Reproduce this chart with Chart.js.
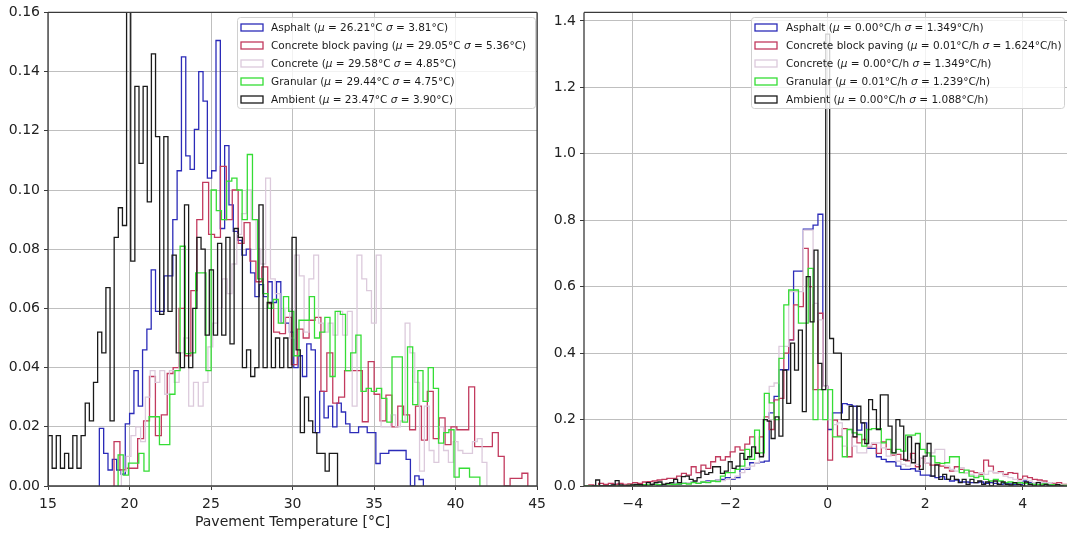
<!DOCTYPE html>
<html><head><meta charset="utf-8">
<script src="https://cdn.jsdelivr.net/npm/chart.js@4.4.1/dist/chart.umd.min.js"></script>
<style>
html,body{margin:0;padding:0;background:#fff;}
#wrap{position:relative;width:1067px;height:535px;overflow:hidden;background:#fff;}
#c1{position:absolute;left:0;top:0;}
#c2{position:absolute;left:545px;top:0;}
</style></head><body>
<div id="wrap"><canvas id="c1" width="552" height="535"></canvas><canvas id="c2" width="522" height="535"></canvas></div>
<script>
// ---------- data ----------
const SERIES = ['Asphalt', 'Concrete block paving', 'Concrete', 'Granular', 'Ambient'];
const LEFT_MU = ['26.21', '29.05', '29.58', '29.44', '23.47'];
const LEFT_SIGMA = ['3.81', '5.36', '4.85', '4.75', '3.90'];
const RIGHT_MU = ['0.00', '0.01', '0.00', '0.01', '0.00'];
const RIGHT_SIGMA = ['1.349', '1.624', '1.349', '1.239', '1.088'];

const LEFT_X_TICKS = [15, 20, 25, 30, 35, 40, 45];
const LEFT_Y_TICKS = [0, 0.02, 0.04, 0.06, 0.08, 0.10, 0.12, 0.14, 0.16];
const RIGHT_X_TICKS = [-4, -2, 0, 2, 4];
const RIGHT_Y_TICKS = [0, 0.2, 0.4, 0.6, 0.8, 1.0, 1.2, 1.4];
const X_TITLE_LEFT = 'Pavement Temperature [°C]';

// histogram bin start / bin width (x units) per series
const LEFT_BIN_START = [18.15, 19.05, 19.5, 19.3, 15.0];
const LEFT_BIN_WIDTH = [0.265, 0.3626, 0.295, 0.317, 0.2537];
const RIGHT_BIN_START = [-5, -5, -5, -5, -4.84];
const RIGHT_BIN_WIDTH = [0.1, 0.1, 0.1, 0.1, 0.08];

const asphaltTemp = [0.0195,0.011,0.0054,0.009,0.0054,0.004,0.021,0.0245,0.039,0.027,0.046,0.053,0.073,0.059,0.059,0.071,0.071,
0.09,0.1065,0.145,0.1115,0.107,0.1205,0.140,0.130,0.104,0.1065,0.1505,0.087,0.115,0.095,
0.086,0.083,0.078,0.080,0.072,0.064,0.068,0.064,0.069,0.062,0.069,0.055,
0.055,0.052,0.040,0.044,0.037,0.048,0.046,0.018,0.032,0.023,0.027,0.020,0.028,0.025,0.021,0.018,0.018,0.020,0.020,0.018,0.018,0.0076,0.011,0.011,0.012,0.012,0.012,0.012,0.009,0.0,0.0034,0.0022];
const blockTemp = [0.015,0.0054,0.006,0.006,0.016,0.022,0.037,0.017,0.024,0.038,0.040,0.060,0.044,0.066,0.090,0.1026,0.085,0.084,0.108,0.090,0.100,0.082,0.089,0.076,0.069,0.074,0.0616,0.052,
0.0515,0.057,0.041,0.053,0.050,0.056,0.057,0.032,0.045,0.028,0.030,0.039,0.039,0.039,0.0217,0.042,0.031,0.022,0.0307,0.020,0.027,0.024,0.019,0.027,0.0155,0.032,0.016,0.023,0.014,0.020,0.019,0.019,0.0335,0.0133,0.0133,0.0133,0.018,0.010,0.0,0.0026,0.0026,0.0043];
const concreteTemp = [0.005,0.010,0.017,0.020,0.015,0.030,0.039,0.035,0.039,0.031,0.039,0.035,0.045,0.050,0.027,0.035,0.027,0.035,0.047,0.055,0.060,0.070,0.065,0.075,0.085,0.092,0.100,0.090,0.080,0.075,0.104,0.070,0.065,0.055,0.060,0.050,
0.078,0.071,0.052,0.070,0.078,0.055,0.052,0.055,0.051,0.059,0.051,0.059,0.027,0.078,0.070,0.066,0.055,0.078,0.020,
0.020,0.024,0.020,0.022,0.055,0.045,
0.035,0.005,0.027,0.012,0.008,0.020,0.012,0.008,0.015,0.012,0.011,0.011,0.015,0.016,0.008];
const granularTemp = [0.0105,0.0037,0.0077,0.0077,0.011,0.005,0.0234,0.0234,0.014,0.014,
0.031,0.039,0.081,0.0447,0.045,0.072,0.072,0.039,0.100,0.093,0.090,0.103,0.104,0.100,0.090,0.112,0.090,0.070,0.065,0.060,0.063,0.055,0.064,0.059,
0.044,0.056,0.056,0.064,0.050,0.052,0.057,0.037,0.059,0.058,0.039,0.045,0.051,0.032,0.033,0.032,0.033,0.0296,0.0216,0.0436,0.0436,0.0216,0.047,
0.0275,0.039,0.0286,0.040,0.033,0.0145,0.018,0.019,0.003,0.006,0.006,0.003,0.003];
const ambientTemp = [0.017,0.006,0.017,0.006,0.011,0.006,0.017,0.006,
0.017,0.028,0.022,0.035,
0.052,0.045,0.067,0.022,
0.084,0.094,0.088,0.175,
0.076,0.135,0.109,0.135,0.096,0.146,0.118,0.058,
0.118,0.059,0.078,0.045,0.040,0.095,0.040,0.060,0.084,0.080,
0.051,0.073,0.051,0.082,0.051,0.084,0.048,0.087,0.084,0.040,
0.046,0.037,0.040,0.095,0.040,0.062,0.040,
0.050,0.040,0.050,0.040,0.084,
0.046,0.018,0.030,0.022,0.018,0.011,0.011,0.005,0.011,0.011];

const asphaltRate = [0,0,0,0,0,0,0.005,0,0,0,0,0,0.004,0,0.005,0,0.004,0.006,0.008,0.006,
0.008,0.010,0.012,0.010,0.012,0.015,0.014,0.018,0.020,0.025,
0.020,0.025,0.050,0.050,0.070,0.070,0.072,0.075,0.220,0.270,
0.350,0.350,0.440,0.647,0.647,0.773,0.773,0.785,0.818,0.300,
0.170,0.220,0.220,0.248,0.245,0.240,0.168,0.190,0.113,0.113,
0.088,0.080,0.073,0.073,0.060,0.050,0.050,0.052,0.045,0.033,
0.033,0.030,0.025,0.028,0.020,0.015,0.018,0.012,0.012,0.010,
0.010,0.012,0.008,0.010,0.008,0.005,0.008,0.006,0.004,0.005,
0.015,0.010,0.005,0.004,0.008,0.003,0.004,0.002,0.002,0.000];
const blockRate = [0.000,0.003,0.000,0.008,0.005,0.008,0.005,0.008,0.005,0.006,0.010,0.008,0.012,0.013,0.015,0.018,0.020,0.023,0.023,0.030,
0.038,0.033,0.058,0.040,0.063,0.053,0.073,0.088,0.078,0.088,
0.103,0.118,0.108,0.126,0.148,0.100,0.148,0.208,0.170,0.259,
0.264,0.400,0.440,0.545,0.540,0.715,0.600,0.290,0.520,0.300,
0.078,0.198,0.150,0.173,0.088,0.148,0.130,0.140,0.118,0.125,
0.098,0.133,0.110,0.093,0.095,0.080,0.076,0.098,0.058,0.085,
0.070,0.063,0.065,0.060,0.055,0.045,0.058,0.050,0.040,0.045,
0.040,0.035,0.078,0.060,0.040,0.043,0.035,0.040,0.038,0.020,
0.030,0.025,0.020,0.018,0.015,0.010,0.008,0.010,0.005,0.003];
const concreteRate = [0,0,0,0,0,0,0,0,0.002,0,0.003,0.002,0.004,0.003,0.005,0.004,0.006,0.005,0.006,0.008,
0.008,0.010,0.012,0.010,0.014,0.012,0.015,0.018,0.016,0.020,
0.022,0.030,0.040,0.055,0.060,0.070,0.090,0.200,0.300,0.310,
0.420,0.420,0.585,0.585,0.585,0.770,0.770,0.550,0.500,0.300,
0.200,0.185,0.190,0.120,0.170,0.120,0.100,0.100,0.120,0.130,
0.130,0.115,0.090,0.100,0.075,0.065,0.060,0.080,0.065,0.085,
0.070,0.100,0.110,0.110,0.060,0.050,0.045,0.055,0.040,0.035,
0.030,0.040,0.035,0.045,0.040,0.040,0.030,0.025,0.020,0.015,
0.020,0.015,0.010,0.012,0.008,0.010,0.005,0.005,0.003,0.000];
const granularRate = [0,0,0,0,0,0,0,0,0,0.002,0.003,0.002,0.004,0.003,0.005,0.004,0.005,0.006,0.005,0.006,
0.008,0.006,0.010,0.008,0.012,0.010,0.015,0.013,0.030,0.040,
0.040,0.050,0.060,0.110,0.080,0.168,0.100,0.279,0.250,0.200,
0.384,0.545,0.590,0.590,0.490,0.490,0.655,0.200,0.290,0.200,
0.290,0.148,0.148,0.088,0.170,0.160,0.155,0.120,0.170,0.173,
0.173,0.130,0.140,0.100,0.110,0.105,0.153,0.153,0.158,0.110,
0.100,0.090,0.070,0.068,0.070,0.088,0.088,0.040,0.048,0.030,
0.025,0.030,0.020,0.015,0.020,0.015,0.010,0.012,0.008,0.010,
0.008,0.006,0.005,0.004,0.006,0.003,0.004,0.002,0.002,0.000];
const ambientRate = [0,0.018,0,0,0,0.003,0.016,0.003,0,0.002,0.003,0.005,0.004,0,0.010,0.005,0.010,0.012,0.005,0.008,0.010,0.020,0.010,0.028,0.030,0.020,0.015,0.025,0.045,0.035,
0.040,0.058,0.058,0.038,0.045,0.073,0.053,0.060,0.098,0.080,
0.088,0.118,0.098,0.088,0.200,0.195,0.143,0.208,0.150,0.349,
0.249,0.430,0.349,0.469,0.224,0.630,0.494,0.710,0.369,0.290,
1.360,
0.444,0.400,0.400,0.200,0.200,0.240,0.148,0.240,0.190,0.128,
0.260,0.230,0.170,0.274,0.274,0.180,0.100,0.200,0.180,0.078,
0.148,0.070,0.128,0.050,0.090,0.128,0.030,0.063,0.020,0.035,
0.020,0.030,0.020,0.010,0.020,0.005,0.020,0.010,0.015,0.005,
0.012,0,0.015,0.005,0.012,0.005,0.003,0.010,0.005,0,0.012,0.005,0,0.010,0,0.005,0,0,0.004,0];

const LEFT_VALUES = [asphaltTemp, blockTemp, concreteTemp, granularTemp, ambientTemp];
const RIGHT_VALUES = [asphaltRate, blockRate, concreteRate, granularRate, ambientRate];

// ---------- styles ----------
const COLORS = ['#2b2bb8', '#c23a5e', '#dccadc', '#35dd35', '#1a1a1a'];
const FONT = "'DejaVu Sans', sans-serif";
const GRID = '#bfbfbf';
const SPINE = '#3a3a3a';

function steps(start, width, vals) {
  const pts = [{x: start, y: 0}];
  vals.forEach((v, i) => pts.push({x: start + width * i, y: v}));
  pts.push({x: start + width * vals.length, y: 0});
  return pts;
}

function makeDatasets(starts, widths, values) {
  return SERIES.map((name, i) => ({
    label: name,
    data: steps(starts[i], widths[i], values[i]),
    borderColor: COLORS[i],
    backgroundColor: 'transparent',
    borderWidth: 1.3,
    stepped: true,
    pointRadius: 0,
    fill: false,
    order: SERIES.length - i
  }));
}

function spinesPlugin(sides) {
  return {
    id: 'spines',
    afterDatasetsDraw(chart) {
      const {ctx, chartArea: a} = chart;
      ctx.save();
      ctx.strokeStyle = SPINE; ctx.lineWidth = 1.3;
      ctx.beginPath();
      if (sides.includes('l')) { ctx.moveTo(a.left, a.top); ctx.lineTo(a.left, a.bottom); }
      if (sides.includes('r')) { ctx.moveTo(a.right, a.top); ctx.lineTo(a.right, a.bottom); }
      if (sides.includes('t')) { ctx.moveTo(a.left, a.top); ctx.lineTo(a.right, a.top); }
      if (sides.includes('b')) { ctx.moveTo(a.left, a.bottom); ctx.lineTo(a.right, a.bottom); }
      ctx.stroke();
      ctx.restore();
    }
  };
}

function legendPlugin(mus, sigmas, unit, box) {
  return {
    id: 'boxlegend',
    afterDraw(chart) {
      const ctx = chart.ctx;
      ctx.save();
      const r = 3;
      const {x0, y0, x1, y1, textX} = box;
      ctx.beginPath();
      ctx.moveTo(x0 + r, y0); ctx.lineTo(x1 - r, y0); ctx.quadraticCurveTo(x1, y0, x1, y0 + r);
      ctx.lineTo(x1, y1 - r); ctx.quadraticCurveTo(x1, y1, x1 - r, y1);
      ctx.lineTo(x0 + r, y1); ctx.quadraticCurveTo(x0, y1, x0, y1 - r);
      ctx.lineTo(x0, y0 + r); ctx.quadraticCurveTo(x0, y0, x0 + r, y0);
      ctx.closePath();
      ctx.fillStyle = 'rgba(255,255,255,0.8)';
      ctx.fill();
      ctx.strokeStyle = '#d0d0d0'; ctx.lineWidth = 1;
      ctx.stroke();
      const rowH = 18;
      const normal = `10.5px ${FONT}`;
      const italic = `italic 10.5px ${FONT}`;
      ctx.textBaseline = 'middle';
      SERIES.forEach((name, i) => {
        const cy = y0 + 10 + i * rowH;
        ctx.strokeStyle = COLORS[i]; ctx.lineWidth = 1.3;
        ctx.strokeRect(x0 + 3.5, cy - 3.5, 22, 7);
        const parts = [
          [name + ' (', normal], ['μ', italic], [' = ' + mus[i] + unit + ' ', normal],
          ['σ', italic], [' = ' + sigmas[i] + unit + ')', normal]
        ];
        let x = textX;
        ctx.fillStyle = '#1a1a1a';
        parts.forEach(([t, f]) => { ctx.font = f; ctx.fillText(t, x, cy + 0.5); x += ctx.measureText(t).width; });
      });
      ctx.restore();
    }
  };
}

function tickFont() { return {family: FONT, size: 14}; }

function makeChart(canvas, cfg) {
  return new Chart(canvas, {
    type: 'line',
    data: {datasets: cfg.datasets},
    options: {
      responsive: false,
      animation: false,
      events: [],
      layout: {padding: cfg.padding},
      plugins: {legend: {display: false}, tooltip: {enabled: false}},
      scales: {
        x: {
          type: 'linear', min: cfg.xmin, max: cfg.xmax,
          afterBuildTicks: s => { s.ticks = cfg.xticks.map(v => ({value: v})); },
          afterFit: s => { s.height = 49; },
          ticks: {font: tickFont(), color: '#222', maxRotation: 0, autoSkip: false, padding: 6, callback: cfg.xfmt},
          grid: {color: GRID, lineWidth: 1, tickLength: 4, tickColor: SPINE, drawTicks: true},
          border: {display: false},
          title: cfg.xtitle ? {display: true, text: cfg.xtitle, font: {family: FONT, size: 14}, color: '#222', padding: {top: 0, bottom: 4}} : {display: false}
        },
        y: {
          type: 'linear', min: 0, max: cfg.ymax,
          afterBuildTicks: s => { s.ticks = cfg.yticks.map(v => ({value: v})); },
          afterFit: s => { s.width = cfg.ywidth; },
          ticks: {font: tickFont(), color: '#222', padding: 4, callback: cfg.yfmt},
          grid: {color: GRID, lineWidth: 1, tickLength: 4, tickColor: SPINE, drawTicks: true},
          border: {display: false}
        }
      }
    },
    plugins: [spinesPlugin(cfg.spines), legendPlugin(cfg.mus, cfg.sigmas, cfg.unit, cfg.box)]
  });
}

makeChart(document.getElementById('c1'), {
  datasets: makeDatasets(LEFT_BIN_START, LEFT_BIN_WIDTH, LEFT_VALUES),
  padding: {top: 12, right: 0, left: 0, bottom: 0},
  xmin: 15, xmax: 45, ymax: 0.16,
  xticks: LEFT_X_TICKS, yticks: LEFT_Y_TICKS,
  xfmt: v => String(v), yfmt: v => v.toFixed(2),
  xtitle: X_TITLE_LEFT, ywidth: 48,
  spines: 'lrtb',
  mus: LEFT_MU, sigmas: LEFT_SIGMA, unit: '°C',
  box: {x0: 237.5, y0: 17.5, x1: 535.5, y1: 108.5, textX: 271}
});

makeChart(document.getElementById('c2'), {
  datasets: makeDatasets(RIGHT_BIN_START, RIGHT_BIN_WIDTH, RIGHT_VALUES),
  padding: {top: 12, right: 0, left: 0, bottom: 0},
  xmin: -5, xmax: 4.91, ymax: 1.4256,
  xticks: RIGHT_X_TICKS, yticks: RIGHT_Y_TICKS,
  xfmt: v => (v < 0 ? '\u2212' + Math.abs(v) : String(v)), yfmt: v => v.toFixed(1),
  xtitle: null, ywidth: 39,
  spines: 'ltb',
  mus: RIGHT_MU, sigmas: RIGHT_SIGMA, unit: '°C/h',
  box: {x0: 206.5, y0: 17.5, x1: 519.5, y1: 108.5, textX: 241}
});
</script></body></html>
